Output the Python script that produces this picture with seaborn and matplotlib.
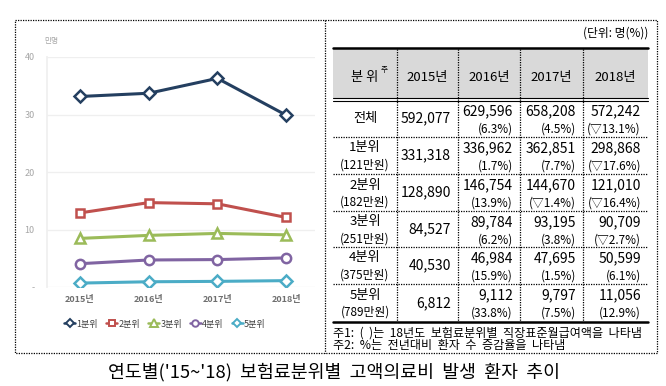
import seaborn as sns
import numpy as np
import matplotlib.pyplot as plt
import pandas as pd
from matplotlib.lines import Line2D
from matplotlib.patches import Rectangle

# data (patients, from table)
years = ['2015년', '2016년', '2017년', '2018년']
groups = ['1분위', '2분위', '3분위', '4분위', '5분위']
incomes = ['(121만원)', '(182만원)', '(251만원)', '(375만원)', '(789만원)']
total = [592077, 629596, 658208, 572242]
total_pct = ['(6.3%)', '(4.5%)', '(▽13.1%)']
q1 = [331318, 336962, 362851, 298868]
q2 = [128890, 146754, 144670, 121010]
q3 = [84527, 89784, 93195, 90709]
q4 = [40530, 46984, 47695, 50599]
q5 = [6812, 9112, 9797, 11056]
q1_pct = ['(1.7%)', '(7.7%)', '(▽17.6%)']
q2_pct = ['(13.9%)', '(▽1.4%)', '(▽16.4%)']
q3_pct = ['(6.2%)', '(3.8%)', '(▽2.7%)']
q4_pct = ['(15.9%)', '(1.5%)', '(6.1%)']
q5_pct = ['(33.8%)', '(7.5%)', '(12.9%)']
ytick_labels = ['-', '10', '20', '30', '40']

colors = ['#243f60', '#c0504d', '#9bbb59', '#8064a2', '#4bacc6']
markers = ['D', 's', '^', 'o', 'D']
msizes = [5.8, 6.2, 7.8, 6.7, 5.8]

sns.set_theme(style='white')
plt.rcParams['font.family'] = ['Noto Sans CJK KR', 'DejaVu Sans']

series = [q1, q2, q3, q4, q5]
rows = []
for g, vals in zip(groups, series):
    for y, v in zip(years, vals):
        rows.append({'연도': y, '분위': g, '환자': v / 10000})
df = pd.DataFrame(rows)

W, H = 666, 386
fig = plt.figure(figsize=(W / 100, H / 100), dpi=100)

# ---- line chart ----
ax = fig.add_axes([47 / W, 1 - 287 / H, 268 / W, 230 / H])
sns.lineplot(data=df, x='연도', y='환자', hue='분위', style='분위',
             palette=colors, markers=markers, dashes=False, linewidth=2.2,
             ax=ax, legend=False)
for line, ms in zip(ax.lines, msizes):
    line.set_markerfacecolor('white')
    line.set_markeredgecolor(line.get_color())
    line.set_markeredgewidth(1.8)
    line.set_markersize(ms)
ax.set_xlim(-0.48, 3.42)
ax.set_ylim(0, 40)
ax.set_yticks([0, 10, 20, 30, 40])
ax.set_yticklabels(ytick_labels, fontsize=6.5, color='#a6a6a6')
ax.tick_params(axis='y', length=0, pad=9)
ax.tick_params(axis='x', length=0, pad=6, labelsize=6.5, labelcolor='#6f6f6f')
for t in ax.get_xticklabels():
    t.set_fontweight('bold')
ax.set_xlabel('')
ax.set_ylabel('')
ax.grid(axis='y', color='#efefef', linewidth=0.9)
for s in ['top', 'right', 'bottom']:
    ax.spines[s].set_visible(False)
ax.spines['left'].set_color('#efefef')
ax.text(-0.01, 1.05, '만명', transform=ax.transAxes, fontsize=5.5,
        color='#a6a6a6', ha='left', va='bottom')

handles = [Line2D([], [], color=c, marker=m, markerfacecolor='white',
                  markeredgecolor=c, markersize=ms * 0.7, markeredgewidth=1.4,
                  linewidth=1.8) for c, m, ms in zip(colors, markers, msizes)]
fig.legend(handles, groups, loc='center', bbox_to_anchor=(165 / W, 1 - 324 / H),
           ncol=5, frameon=False, fontsize=6.5, handlelength=1.2,
           handletextpad=0.15, columnspacing=0.9, labelcolor='#404040')

# ---- table and frame (pixel coordinates) ----
ov = fig.add_axes([0, 0, 1, 1])
ov.set_xlim(0, W)
ov.set_ylim(H, 0)
ov.axis('off')
ov.patch.set_alpha(0)

dot = dict(color='black', linewidth=0.9, linestyle=(0, (1, 1)))
ov.plot([15, 657, 657, 15, 15], [20, 20, 353, 353, 20], **dot)
ov.plot([325, 325], [20, 353], **dot)

cols = [333, 397, 458, 520, 583, 648]
rtops = [100, 137, 174, 211, 247, 284, 322]
ov.add_patch(Rectangle((cols[0], 48), cols[-1] - cols[0], 50,
                       facecolor='#d9d9d9', edgecolor='none'))
ov.plot([cols[0], cols[-1]], [48, 48], color='black', linewidth=1.8)
ov.plot([cols[0], cols[-1]], [97.5, 97.5], color='black', linewidth=0.8)
ov.plot([cols[0], cols[-1]], [100.5, 100.5], color='black', linewidth=0.8)
ov.plot([cols[0], cols[-1]], [322, 322], color='black', linewidth=1.8)
for x in cols[1:-1]:
    ov.plot([x, x], [49, 321], **dot)
for y in rtops[1:-1]:
    ov.plot([cols[0], cols[-1]], [y, y], **dot)

tk = dict(color='black')
ov.text(cols[-1], 33, '(단위: 명(%))', ha='right', va='center', fontsize=8.5, **tk)
ov.text(365, 77, '분 위', ha='center', va='center', fontsize=9.5, **tk)
ov.text(381, 70, '주', ha='left', va='center', fontsize=5.5, **tk)
for i, yr in enumerate(years):
    ov.text((cols[i + 1] + cols[i + 2]) / 2, 77, yr, ha='center', va='center',
            fontsize=9.5, **tk)

labels = ['전체'] + groups
nums = [total] + series
pcts = [total_pct, q1_pct, q2_pct, q3_pct, q4_pct, q5_pct]
for r in range(6):
    top, bot = rtops[r], rtops[r + 1]
    mid = (top + bot) / 2
    if r == 0:
        ov.text(365, mid, labels[r], ha='center', va='center', fontsize=9.5, **tk)
    else:
        ov.text(365, top + 11, labels[r], ha='center', va='center', fontsize=9.5, **tk)
        ov.text(365, top + 28, incomes[r - 1], ha='center', va='center',
                fontsize=8.5, **tk)
    ov.text(cols[2] - 7, mid, f'{nums[r][0]:,}', ha='right', va='center',
            fontsize=10, **tk)
    for j in range(3):
        xr = cols[j + 3] - 7
        ov.text(xr, top + 11, f'{nums[r][j + 1]:,}', ha='right', va='center',
                fontsize=10, **tk)
        ov.text(xr, top + 29, pcts[r][j], ha='right', va='center',
                fontsize=8.5, **tk)

ov.text(cols[0], 333.5, '주1:  (  )는  18년도  보험료분위별  직장표준월급여액을  나타냄',
        ha='left', va='center', fontsize=8.7, **tk)
ov.text(cols[0], 346, '주2:  %는  전년대비  환자  수  증감율을  나타냄',
        ha='left', va='center', fontsize=8.7, **tk)

fig.text(334 / W, 1 - 372 / H,
         "연도별('15~'18)  보험료분위별  고액의료비  발생  환자  추이",
         ha='center', va='center', fontsize=13.2, color='black')

fig.savefig('out.png', dpi=100)
